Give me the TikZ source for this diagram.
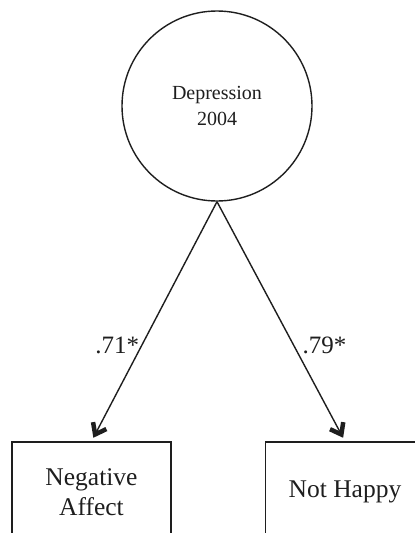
\documentclass[tikz,border=0pt]{standalone}
\usepackage{fontspec}
\setmainfont{Liberation Serif}
\usepackage{tikz}
\usetikzlibrary{arrows.meta,positioning}
\definecolor{semInk}{RGB}{30,30,30}

\begin{document}
\begin{tikzpicture}[x=1pt,y=-1pt]
\tikzset{
latent/.style={circle,draw=semInk,line width=1.4pt,minimum size=190pt,inner sep=0pt,
font=\fontsize{20}{26}\selectfont,align=center,text=semInk},
obs/.style={rectangle,draw=semInk,line width=1.4pt,minimum width=159pt,minimum height=100pt,
font=\fontsize{25.5}{30}\selectfont,align=center,text=semInk},
path/.style={draw=semInk,line width=1.4pt,shorten >=4pt,
-{Straight Barb[length=10pt,width=15pt,line width=0pt 3.2]}},
coef/.style={font=\fontsize{25}{30}\selectfont,text=semInk,inner sep=2pt}
}
\useasboundingbox (0,0) rectangle (415,533);
\node[latent] (dep) at (217,106) {Depression\\2004};
\node[obs] (neg) at (91.5,492) {Negative\\Affect};
\node[obs] (hap) at (345,492) {Not Happy};
\draw[path] (dep.south) -- node[coef,pos=.6,left] {.71*} (neg.north);
\draw[path] (dep.south) -- node[coef,pos=.6,right,inner sep=8pt] {.79*} (hap.north);
\end{tikzpicture}
\end{document}
